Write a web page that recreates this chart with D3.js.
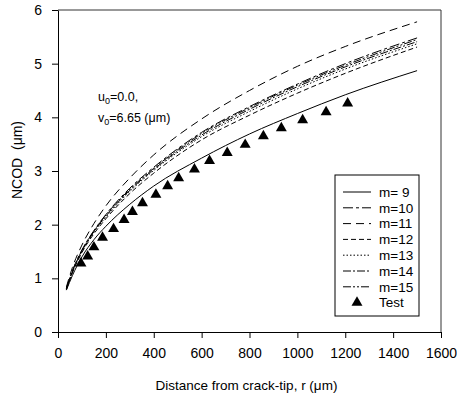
<!DOCTYPE html>
<html>
<head>
<meta charset="utf-8">
<script src="https://cdn.jsdelivr.net/npm/d3@7"></script>
<style>
  html, body { margin: 0; padding: 0; background: #fff; }
  svg { display: block; font-family: "Liberation Sans", Arial, sans-serif; }
  .axis path, .axis line { stroke: #000; stroke-width: 1; }
  .axis text { font-size: 14px; fill: #000; }
</style>
</head>
<body>
<div id="chart"></div>
<script>
// ── data ──
const rGrid = [35, 60, 100, 150, 200, 300, 400, 600, 800, 1000, 1200, 1500];

const m9  = [0.78, 1.05, 1.40, 1.72, 1.97, 2.38, 2.72, 3.24, 3.69, 4.07, 4.42, 4.87];
const m10 = [0.81, 1.14, 1.53, 1.89, 2.19, 2.68, 3.07, 3.72, 4.20, 4.62, 5.00, 5.48];
const m11 = [0.84, 1.20, 1.62, 2.02, 2.35, 2.87, 3.30, 3.97, 4.50, 4.95, 5.32, 5.78];
const m12 = [0.79, 1.10, 1.48, 1.83, 2.11, 2.58, 2.96, 3.58, 4.04, 4.45, 4.82, 5.31];
const m13 = [0.80, 1.12, 1.50, 1.86, 2.14, 2.62, 3.01, 3.64, 4.11, 4.53, 4.90, 5.37];
const m14 = [0.80, 1.12, 1.51, 1.87, 2.16, 2.64, 3.03, 3.67, 4.15, 4.57, 4.94, 5.41];
const m15 = [0.81, 1.13, 1.52, 1.88, 2.18, 2.66, 3.05, 3.70, 4.18, 4.60, 4.97, 5.45];

const testR   = [96, 124, 150, 186, 232, 276, 311, 353, 409, 458, 504, 570, 633, 707, 782, 858, 933, 1022, 1120, 1210];
const testVal = [1.28, 1.41, 1.58, 1.76, 1.92, 2.09, 2.24, 2.40, 2.56, 2.72, 2.87, 3.03, 3.19, 3.34, 3.49, 3.65, 3.80, 3.95, 4.10, 4.26];

const xTicks = [0, 200, 400, 600, 800, 1000, 1200, 1400, 1600];
const yTicks = [0, 1, 2, 3, 4, 5, 6];

const series = [
  { label: "m= 9", values: m9,  dash: null },
  { label: "m=10", values: m10, dash: "10,3,3,3" },
  { label: "m=11", values: m11, dash: "8,5" },
  { label: "m=12", values: m12, dash: "5,3" },
  { label: "m=13", values: m13, dash: "1.5,2" },
  { label: "m=14", values: m14, dash: "8,2,2,2" },
  { label: "m=15", values: m15, dash: "8,2,2,2,2,2" }
];

// ── layout ──
const W = 457, H = 401;
const margin = { top: 10, right: 16, bottom: 69, left: 58 };
const iw = W - margin.left - margin.right;
const ih = H - margin.top - margin.bottom;

const svg = d3.select("#chart").append("svg")
  .attr("width", W).attr("height", H);

const g = svg.append("g").attr("transform", `translate(${margin.left},${margin.top})`);

const x = d3.scaleLinear().domain([0, 1600]).range([0, iw]);
const y = d3.scaleLinear().domain([0, 6]).range([ih, 0]);

// frame (top + right)
g.append("path")
  .attr("d", `M0,0H${iw}V${ih}`)
  .attr("fill", "none").attr("stroke", "#333").attr("stroke-width", 1);

g.append("g").attr("class", "axis")
  .attr("transform", `translate(0,${ih})`)
  .call(d3.axisBottom(x).tickValues(xTicks).tickFormat(d3.format("d"))
    .tickSize(6).tickPadding(10).tickSizeOuter(0));

g.append("g").attr("class", "axis")
  .call(d3.axisLeft(y).tickValues(yTicks).tickFormat(d3.format("d"))
    .tickSize(6).tickPadding(10).tickSizeOuter(0));

// curves
const line = d3.line()
  .x((d, i) => x(rGrid[i]))
  .y(d => y(d))
  .curve(d3.curveMonotoneX);

g.append("g").selectAll("path")
  .data(series)
  .join("path")
  .attr("d", d => line(d.values))
  .attr("fill", "none")
  .attr("stroke", "#000")
  .attr("stroke-width", 1)
  .attr("stroke-dasharray", d => d.dash);

// test points
const tri = d3.symbol().type(d3.symbolTriangle).size(52);
g.append("g").selectAll("path")
  .data(testR)
  .join("path")
  .attr("transform", (d, i) => `translate(${x(d)},${y(testVal[i])})`)
  .attr("d", tri)
  .attr("fill", "#000");

// annotation
const ann = g.append("text").attr("x", 40).attr("y", 91).attr("font-size", 12.5);
ann.append("tspan").text("u");
ann.append("tspan").text("0").attr("font-size", 9).attr("dy", 3);
ann.append("tspan").text("=0.0,").attr("dy", -3);
const ann2 = g.append("text").attr("x", 40).attr("y", 112).attr("font-size", 12.5);
ann2.append("tspan").text("v");
ann2.append("tspan").text("0").attr("font-size", 9).attr("dy", 3);
ann2.append("tspan").text("=6.65 (μm)").attr("dy", -3);

// legend
const lg = svg.append("g").attr("transform", "translate(335,175)");
lg.append("rect").attr("width", 84).attr("height", 141)
  .attr("fill", "#fff").attr("stroke", "#000").attr("stroke-width", 1);
const rowH = 15.8;
const items = series.map(s => ({ label: s.label, dash: s.dash, marker: false }))
  .concat([{ label: "Test", marker: true }]);
const rows = lg.selectAll("g.row").data(items).join("g")
  .attr("class", "row")
  .attr("transform", (d, i) => `translate(0,${17 + i * rowH})`);
rows.filter(d => !d.marker).append("line")
  .attr("x1", 8).attr("x2", 36).attr("y1", 0).attr("y2", 0)
  .attr("stroke", "#000").attr("stroke-width", 1)
  .attr("stroke-dasharray", d => d.dash);
rows.filter(d => d.marker).append("path")
  .attr("transform", "translate(22,0)").attr("d", tri).attr("fill", "#000");
rows.append("text").attr("x", 44).attr("y", 0).attr("dy", "0.35em")
  .attr("font-size", 13.5).text(d => d.label);

// axis titles
svg.append("text")
  .attr("x", margin.left + iw / 2 - 3).attr("y", 390)
  .attr("text-anchor", "middle").attr("font-size", 13.5)
  .text("Distance from crack-tip, r (μm)");

svg.append("text")
  .attr("transform", `translate(22,${margin.top + 150}) rotate(-90)`)
  .attr("text-anchor", "middle").attr("font-size", 14)
  .attr("xml:space", "preserve")
  .text("NCOD  (μm)");
</script>
</body>
</html>
